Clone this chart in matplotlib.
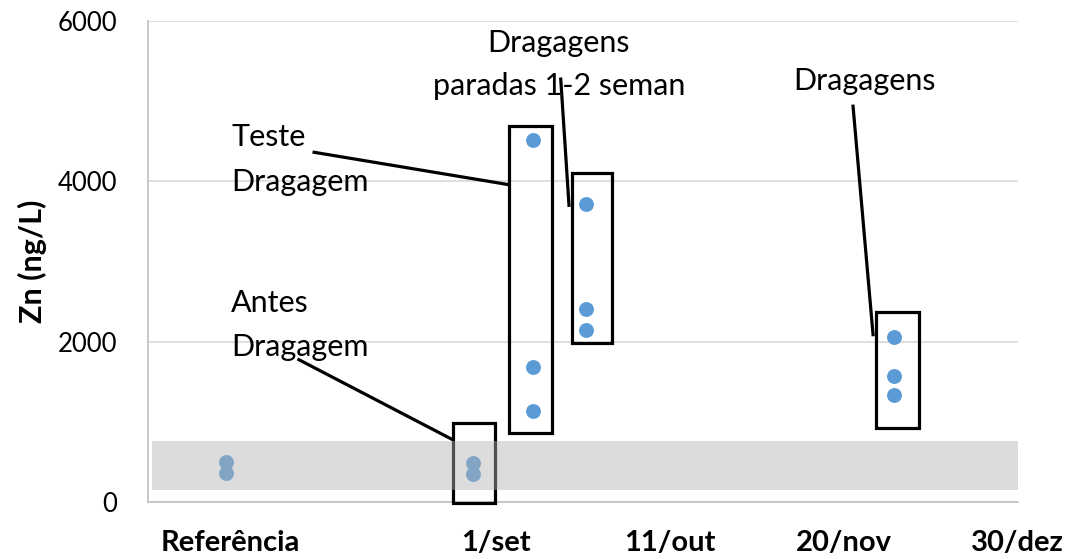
# Zn concentrations before / during dredging
import matplotlib.pyplot as plt
from matplotlib.patches import Rectangle

plt.rcParams['font.family'] = ['Lato', 'DejaVu Sans']

# x in days relative to 1/set (Referência placed on the left)
tick_pos = [-61, 0, 40, 80, 120]
tick_labels = ['Referência', '1/set', '11/out', '20/nov', '30/dez']

# samples
x_ref = [-62, -62]
y_ref = [500, 360]
x_antes = [-5.3, -5.3]
y_antes = [484, 350]
x_teste = [8.5, 8.5, 8.5]
y_teste = [4516, 1679, 1137]
x_parada = [20.6, 20.6, 20.6]
y_parada = [3721, 2408, 2150]
x_drag = [91.5, 91.5, 91.5]
y_drag = [2058, 1567, 1329]

# background range (gray band)
band_low, band_high = 150, 760

# boxes round each group: (x0, x1, y0, y1)
boxes = [(-9.9, -0.2, -15, 987),
         (3.1, 12.9, 866, 4684),
         (17.5, 26.7, 1984, 4100),
         (87.4, 97.2, 921, 2366)]

fig = plt.figure(figsize=(10.76, 5.59), dpi=100)
ax = fig.add_axes([0.1375, 0.102, 0.8085, 0.8605])

ax.set_xlim(-80, 120)
ax.set_ylim(0, 6000)
ax.set_yticks([0, 2000, 4000, 6000])
ax.set_xticks(tick_pos)
ax.set_xticklabels(tick_labels, fontsize=21, fontweight='bold')
ax.tick_params(axis='y', labelsize=18.5, length=0, pad=22)
ax.tick_params(axis='x', length=0, pad=20)
ax.grid(axis='y', color='#d9d9d9', linewidth=1.2)
ax.set_axisbelow(True)
for s in ['top', 'right']:
    ax.spines[s].set_visible(False)
for s in ['left', 'bottom']:
    ax.spines[s].set_color('#bfbfbf')
    ax.spines[s].set_linewidth(1.2)
ax.set_ylabel('Zn (ng/L)', fontsize=22, fontweight='bold', labelpad=8)

blue = '#5b9bd5'
for xs, ys in [(x_ref, y_ref), (x_antes, y_antes), (x_teste, y_teste),
               (x_parada, y_parada), (x_drag, y_drag)]:
    ax.scatter(xs, ys, s=115, color=blue, zorder=3, linewidths=0)

for x0, x1, y0, y1 in boxes:
    ax.add_patch(Rectangle((x0, y0), x1 - x0, y1 - y0, fill=False,
                           edgecolor='black', linewidth=2.3, zorder=4,
                           clip_on=False))

# gray band drawn over the marks, semi-transparent
ax.axhspan(band_low, band_high, xmin=0.005, xmax=1.0, color='#b3b3b3',
           alpha=0.45, linewidth=0, zorder=5)

# callout lines and texts
callouts = [((-45.3, 1775), (-10.3, 787)),
            ((-41.8, 4362), (2.5, 3962)),
            ((14.9, 5275), (16.8, 3700)),
            ((82.1, 4937), (86.7, 2087))]
for (xa, ya), (xb, yb) in callouts:
    ax.plot([xa, xb], [ya, yb], color='black', linewidth=2.3, zorder=4,
            clip_on=False)

fs = 22
ax.text(-60.9, 2487, 'Antes', fontsize=fs, va='center', ha='left')
ax.text(-60.9, 1937, 'Dragagem', fontsize=fs, va='center', ha='left')
ax.text(-60.9, 4550, 'Teste', fontsize=fs, va='center', ha='left')
ax.text(-60.9, 3987, 'Dragagem', fontsize=fs, va='center', ha='left')
ax.text(14.5, 5725, 'Dragagens', fontsize=fs, va='center', ha='center')
ax.text(14.5, 5187, 'paradas 1-2 seman', fontsize=fs, va='center', ha='center')
ax.text(84.8, 5250, 'Dragagens', fontsize=fs, va='center', ha='center')

fig.savefig('out.png', dpi=100)
